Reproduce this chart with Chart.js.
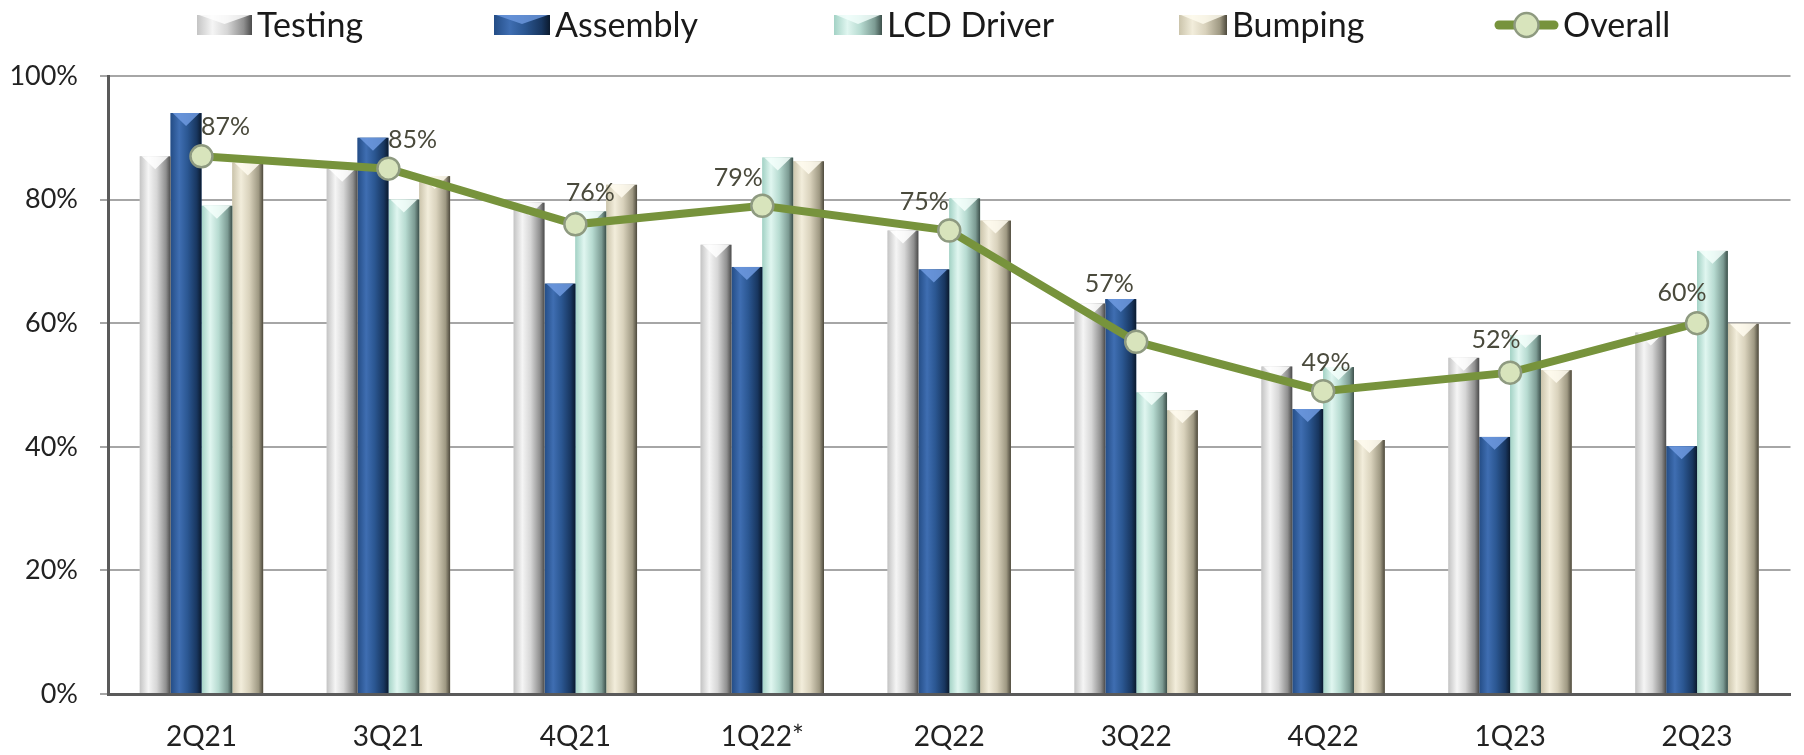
<!DOCTYPE html>
<html>
<head>
<meta charset="utf-8">
<script src="https://cdn.jsdelivr.net/npm/chart.js@4.4.0/dist/chart.umd.min.js"></script>
<style>
  html, body { margin: 0; padding: 0; background: #fff; }
  #wrap { width: 1804px; height: 755px; }
</style>
</head>
<body>
<div id="wrap"><canvas id="utilChart"></canvas></div>
<script>
// quarters and utilisation rates (%)
const quarters  = ['2Q21', '3Q21', '4Q21', '1Q22*', '2Q22', '3Q22', '4Q22', '1Q23', '2Q23'];
const testing   = [87, 85, 79.5, 72.7, 75, 63.2, 53, 54.4, 58.5];
const assembly  = [94, 90, 66.4, 69.1, 68.7, 63.9, 46.1, 41.6, 40.1];
const lcdDriver = [79, 80, 78.1, 86.8, 80.2, 48.8, 52.9, 58.1, 71.7];
const bumping   = [86, 83.8, 82.4, 86.2, 76.6, 45.9, 41.1, 52.4, 59.9];
const overall   = [87, 85, 76, 79, 75, 57, 49, 52, 60];
const yTicks    = [0, 20, 40, 60, 80, 100];

// label nudges for the overall line (px)
const labelDx = [24, 24, 15, -24, -25, -27, 3, -14, -15];
const labelDy = [-29, -29, -31, -28, -29, -58, -28, -33, -30];

// cylinder shading, left -> right
const shades = [
    ['#c4c4c4', '#f5f5f5', '#d6d6d6', '#8f8f8f', '#4a4a4a'],
    ['#244d86', '#3f6eb2', '#2b5792', '#18365f', '#0b1a2e'],
    ['#a3d2c5', '#e0f6f0', '#b7dbd1', '#7c9b93', '#3d504b'],
    ['#cbc4ab', '#f2eddb', '#d9d2bc', '#9f9983', '#4d493c']
];
const caps = ['#ffffff', '#6e9ae0', '#f4fffc', '#fffcf0'];

const legendSlots = [
    { x: 197, w: 55 }, { x: 494, w: 56 }, { x: 834, w: 48 }, { x: 1179, w: 48 }, { x: 1495, w: 63 }
];

const FONT = 'Lato, "Open Sans", sans-serif';

function fillCylinder(ctx, x0, x1, top, bottom, s) {
    const g = ctx.createLinearGradient(x0, 0, x1, 0);
    g.addColorStop(0, s[0]);
    g.addColorStop(0.28, s[1]);
    g.addColorStop(0.55, s[2]);
    g.addColorStop(0.85, s[3]);
    g.addColorStop(1, s[4]);
    ctx.fillStyle = g;
    ctx.fillRect(x0, top, x1 - x0, bottom - top);
}

const cylinderBars = {
    id: 'cylinderBars',
    afterDatasetDraw(chart, args) {
        const meta = args.meta;
        if (meta.type !== 'bar') return;
        const ctx = chart.ctx;
        const s = shades[args.index];
        ctx.save();
        meta.data.forEach(el => {
            const p = el.getProps(['x', 'y', 'base', 'width'], true);
            const x0 = p.x - p.width / 2, x1 = p.x + p.width / 2;
            fillCylinder(ctx, x0, x1, p.y, p.base, s);
            // bevelled top
            const h = p.width * 0.42;
            ctx.globalAlpha = 0.85;
            ctx.fillStyle = caps[args.index];
            ctx.beginPath();
            ctx.moveTo(x0 + 2, p.y);
            ctx.lineTo(x1 - 2, p.y);
            ctx.lineTo(p.x, p.y + h);
            ctx.closePath();
            ctx.fill();
            ctx.globalAlpha = 1;
        });
        ctx.restore();
    }
};

const overallLabels = {
    id: 'overallLabels',
    afterDatasetsDraw(chart) {
        const meta = chart.getDatasetMeta(4);
        const ctx = chart.ctx;
        ctx.save();
        ctx.font = '25px ' + FONT;
        ctx.fillStyle = '#4a4a3c';
        ctx.textAlign = 'center';
        ctx.textBaseline = 'middle';
        meta.data.forEach((pt, i) => {
            ctx.fillText(overall[i] + '%', pt.x + labelDx[i], pt.y + labelDy[i]);
        });
        ctx.restore();
    }
};

const topLegend = {
    id: 'topLegend',
    afterDraw(chart) {
        const ctx = chart.ctx;
        const cy = 25;
        ctx.save();
        chart.data.datasets.forEach((ds, i) => {
            const slot = legendSlots[i];
            if (i < 4) {
                fillCylinder(ctx, slot.x, slot.x + slot.w, cy - 10, cy + 10, shades[i]);
                ctx.fillStyle = caps[i];
                ctx.globalAlpha = 0.8;
                ctx.beginPath();
                ctx.moveTo(slot.x + 2, cy - 10);
                ctx.lineTo(slot.x + slot.w - 2, cy - 10);
                ctx.lineTo(slot.x + slot.w / 2, cy - 1);
                ctx.closePath();
                ctx.fill();
                ctx.globalAlpha = 1;
            } else {
                ctx.strokeStyle = '#77933c';
                ctx.lineWidth = 9;
                ctx.lineCap = 'round';
                ctx.beginPath();
                ctx.moveTo(slot.x + 4, cy);
                ctx.lineTo(slot.x + slot.w - 4, cy);
                ctx.stroke();
                ctx.beginPath();
                ctx.arc(slot.x + slot.w / 2, cy, 12, 0, Math.PI * 2);
                ctx.fillStyle = '#d8e4bc';
                ctx.fill();
                ctx.lineWidth = 2.5;
                ctx.strokeStyle = '#8e9a80';
                ctx.stroke();
            }
            ctx.font = '34px ' + FONT;
            ctx.fillStyle = '#1a1a1a';
            ctx.textAlign = 'left';
            ctx.textBaseline = 'middle';
            ctx.fillText(ds.label, slot.x + slot.w + 5, cy + 1);
        });
        ctx.restore();
    }
};

const barDs = (label, data, i) => ({
    type: 'bar',
    label: label,
    data: data,
    backgroundColor: shades[i][2],
    borderWidth: 0,
    categoryPercentage: 0.66,
    barPercentage: 1.0,
    order: 2
});

new Chart(document.getElementById('utilChart'), {
    data: {
        labels: quarters,
        datasets: [
            barDs('Testing', testing, 0),
            barDs('Assembly', assembly, 1),
            barDs('LCD Driver', lcdDriver, 2),
            barDs('Bumping', bumping, 3),
            {
                type: 'line',
                label: 'Overall',
                data: overall,
                borderColor: '#77933c',
                borderWidth: 8,
                tension: 0,
                pointRadius: 11,
                pointBackgroundColor: '#d8e4bc',
                pointBorderColor: '#8e9a80',
                pointBorderWidth: 2.5,
                order: 0
            }
        ]
    },
    options: {
        responsive: true,
        maintainAspectRatio: false,
        animation: false,
        layout: { padding: { top: 76, right: 0, left: 0, bottom: 0 } },
        plugins: {
            legend: { display: false },
            tooltip: { enabled: false }
        },
        scales: {
            x: {
                grid: { display: false },
                border: { display: true, color: '#5a5a5a', width: 3 },
                ticks: {
                    font: { family: FONT, size: 28 },
                    color: '#222',
                    padding: 18,
                    maxRotation: 0
                },
                afterFit: s => { s.height = 61; }
            },
            y: {
                min: 0,
                max: 100,
                afterBuildTicks: s => { s.ticks = yTicks.map(v => ({ value: v })); },
                grid: { color: '#a6a6a6', lineWidth: 2, tickLength: 8 },
                border: { display: true, color: '#5a5a5a', width: 3 },
                ticks: {
                    font: { family: FONT, size: 27 },
                    color: '#222',
                    padding: 22,
                    callback: v => v + '%'
                },
                afterFit: s => { s.width = 108; }
            }
        }
    },
    plugins: [cylinderBars, overallLabels, topLegend]
});
</script>
</body>
</html>
